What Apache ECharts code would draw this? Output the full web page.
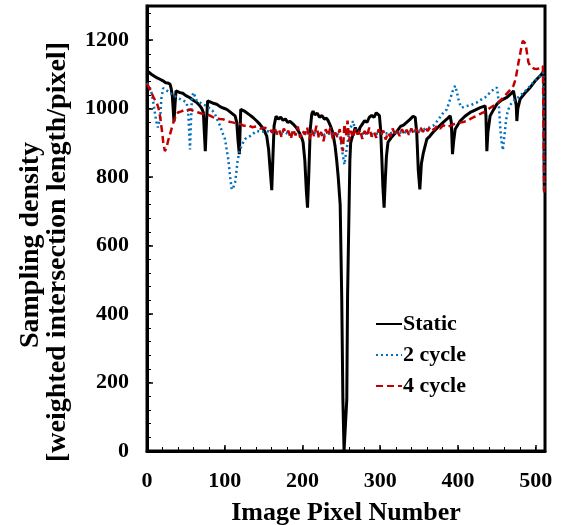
<!DOCTYPE html>
<html>
<head>
<meta charset="utf-8">
<script src="https://cdn.jsdelivr.net/npm/echarts@6/dist/echarts.min.js"></script>
<style>
  html, body { margin: 0; padding: 0; background: #fff; }
  #chart { width: 562px; height: 525px; }
</style>
</head>
<body>
<div id="chart"></div>
<script>
// [image pixel, sampling density]
var staticData = [
  [0,1100],[1.5,1108],[3,1110],[6,1100],[10,1094],[13,1090],[16.7,1086],[20,1082],[24,1076],[27,1075],[29.6,1072],[31,1060],[32.6,1037],[34.7,962],[36,1010],[37.3,1052],[39,1055],[42.5,1047],[46,1045],[50,1038],[55.3,1032],[60,1024],[64,1018],[68.2,1008],[70.5,1000],[72.5,989],[73.8,930],[75,876],[76.5,960],[78,1023],[81,1020],[85,1016],[89.7,1013],[94,1006],[98,1002],[102.6,998],[106,992],[110,985],[113.3,979],[115.5,960],[117,910],[118.8,867],[119.8,940],[120.6,998],[123,995],[126,992],[128.3,989],[132,982],[136,975],[141.2,964],[145,955],[150,940],[154,920],[156.5,880],[158.5,820],[160.5,762],[162,860],[163.5,950],[166,978],[169,970],[172,975],[175,966],[178,970],[181,960],[184,963],[188,955],[192,945],[196,930],[199,915],[200.8,902],[203,850],[205,760],[206.5,711],[208,800],[210,940],[212,985],[213.6,993],[216,982],[219,987],[222,975],[225,980],[228,970],[231,972],[233,965],[236,950],[239,930],[242,890],[244,850],[246,800],[248.5,720],[250.5,450],[252,150],[253.5,0],[255.5,0],[257,150],[258,450],[260,720],[261,850],[262,900],[265,925],[268,945],[271.6,925],[274,945],[277,955],[280,965],[283,960],[286,975],[289,980],[292,975],[295,988],[297,993],[299,980],[300.5,940],[302,860],[303.5,770],[305,711],[306.5,790],[308,860],[310,902],[314,915],[318,925],[322,935],[326,948],[330,952],[334,960],[338,968],[342.3,978],[345,975],[347,930],[349,820],[351,764],[353,840],[355.6,872],[360,911],[364,920],[368,931],[374,945],[381,960],[386,970],[390,979],[391.5,960],[393,867],[394.5,905],[396.4,940],[402.8,964],[409,978],[415.7,989],[422,996],[428.6,1003],[435,1008],[436,980],[437.2,876],[438.5,930],[441.4,979],[446,998],[450,1013],[456,1025],[463,1033],[468,1043],[471.4,1052],[473.5,1050],[475,1010],[475.8,964],[477,1000],[480,1028],[486,1045],[493,1062],[499,1080],[505.8,1096],[509,1105],[510.5,1111],[511,760]
];
var cycle2Data = [
  [0,1075],[2,1070],[4,1060],[6,1045],[8,1020],[10,990],[12,962],[14,945],[15.8,940],[17,975],[18.5,1030],[20.7,1060],[23,1058],[26,1052],[29.6,1047],[33,1040],[37,1035],[41,1030],[45,1025],[48,1022],[51,1018],[53,990],[54.3,930],[55.3,881],[56.5,960],[57.8,1030],[59.6,1047],[62,1035],[64,1023],[68,1018],[72,1012],[76.8,1008],[80,1002],[84,995],[87.5,984],[91,965],[94,950],[97,930],[100.4,911],[102.5,880],[104.6,852],[107,800],[109,764],[111,770],[113.3,784],[115,815],[116.2,842],[118,865],[119.7,881],[123,898],[126,911],[129,916],[132.6,920],[137,928],[141.2,935],[147,932],[154,935],[160,930],[166,933],[172,926],[178,930],[184,924],[190,928],[196,922],[202,927],[208,924],[214,930],[220,926],[226,922],[232,928],[238,925],[244,930],[248,918],[250,895],[252,862],[254,837],[256,870],[258,900],[260,935],[263,950],[265,964],[267,945],[270,928],[275,925],[281,930],[287,924],[293,928],[299,925],[305,930],[311,926],[317,932],[323,928],[329,933],[335,930],[341,936],[347,933],[353,938],[359,942],[364,946],[368,950],[372,960],[376,972],[380,985],[385.7,998],[390,1028],[393,1050],[396.4,1067],[398.5,1050],[400.6,1028],[403,1010],[405,1003],[408,1006],[411.5,1008],[416,1010],[420,1014],[424.3,1018],[428,1024],[431,1028],[435,1033],[439,1042],[443.6,1052],[447,1058],[450,1062],[451.5,1040],[453,998],[454.3,950],[456,905],[457.8,879],[459,905],[460.7,940],[462,968],[463.7,989],[466,1005],[469.4,1018],[473,1025],[477,1032],[480,1038],[486,1050],[493,1067],[499,1082],[505.8,1096],[510,1106],[511,760]
];
var cycle4Data = [
  [0,1072],[2,1065],[4,1055],[6,1045],[9,1030],[12.5,1018],[15,1000],[17,975],[19,940],[21,900],[23,876],[25,885],[27,905],[29.6,925],[32,945],[34,960],[37,978],[40,989],[44,992],[48,996],[52,994],[55,998],[58,995],[62,992],[66,989],[70,986],[74,983],[77,984],[81,980],[85,975],[89,974],[93,970],[98,969],[102,965],[106,962],[110,960],[115,957],[120,955],[125,950],[130,952],[135,946],[141,948],[146,942],[152,944],[158,940],
  [161,930],[164,945],[167,925],[170,938],[173,918],[176,942],[179,928],[182,935],[185,912],[188,940],[191,922],[194,948],[197,915],[200,935],[203,925],[206,945],[209,910],[212,938],[215,920],[218,950],[221,915],[224,932],[227,905],[230,940],[233,922],[236,945],[239,912],[242,930],[245,918],[248,940],[250,900],[252,876],[254,955],[256,920],[258,965],[260,905],[262,935],[265,915],[268,942],[271,925],[274,938],[277,912],[280,935],[283,920],[286,945],[289,918],[292,932],[295,915],[298,940],[301,922],[304,936],[307,910],[310,930],[313,918],[316,942],[319,925],[322,935],[325,920],[328,940],[331,926],[334,938],[337,924],[340,942],[343,928],[346,940],[349,930],[352,944],[355,932],[358,945],[361,935],[365,948],[369,938],[373,950],[377,942],[381,952],[385,946],[390,950],
  [395,955],[400,958],[405,960],[411.5,964],[416,970],[420,975],[424,979],[428,984],[432.8,989],[437,995],[441,1002],[445.7,1008],[450,1015],[455,1025],[458.6,1033],[462,1042],[466,1052],[471.4,1067],[474,1085],[476,1110],[477.9,1135],[480,1160],[482,1185],[483.5,1198],[485.2,1203],[487,1190],[489,1160],[490.7,1135],[493,1125],[495,1120],[498,1117],[501.5,1116],[505,1118],[509.3,1125],[511,755]
];
var seriesNames = ['Static', '2 cycle', '4 cycle'];
var xMax = 512, yMax = 1300;

var serif = 'Liberation Serif';
var chart = echarts.init(document.getElementById('chart'));

var option = {
  animation: false,
  grid: {
    left: 147, right: 17, top: 6, bottom: 74,
    outerBoundsMode: 'none',
    show: true, borderColor: '#000', borderWidth: 3
  },
  legend: {
    data: seriesNames,
    orient: 'vertical',
    left: 370, top: 308,
    itemWidth: 26, itemHeight: 14, itemGap: 9,
    itemStyle: { opacity: 0 },
    textStyle: { fontFamily: serif, fontWeight: 'bold', fontSize: 22, color: '#000', padding: [0, 0, 0, -4] }
  },
  graphic: [{
    type: 'text', x: 31, y: 245, rotation: Math.PI / 2,
    style: {
      text: 'Sampling density',
      font: 'bold 28px "Liberation Serif"', fill: '#000',
      align: 'center', verticalAlign: 'middle'
    }
  }, {
    type: 'text', x: 58, y: 252, rotation: Math.PI / 2,
    style: {
      text: '[weighted intersection length/pixel]',
      font: 'bold 28px "Liberation Serif"', fill: '#000',
      align: 'center', verticalAlign: 'middle'
    }
  }],
  xAxis: [{
    type: 'value', min: 0, max: xMax, interval: 100,
    axisLine: { lineStyle: { color: '#000', width: 3 } },
    axisTick: { inside: true, length: 6, lineStyle: { color: '#000', width: 1.5 } },
    splitLine: { show: false },
    axisLabel: { showMaxLabel: false, margin: 19, fontFamily: serif, fontWeight: 'bold', fontSize: 22, color: '#000' },
    name: 'Image Pixel Number',
    nameLocation: 'middle', nameGap: 49,
    nameTextStyle: { fontFamily: serif, fontWeight: 'bold', fontSize: 26, color: '#000' }
  }, {
    type: 'value', min: 0, max: xMax, interval: 20, position: 'bottom',
    axisLine: { show: false },
    axisTick: { inside: true, length: 4, lineStyle: { color: '#000', width: 1 } },
    axisLabel: { show: false }, splitLine: { show: false }
  }],
  yAxis: [{
    type: 'value', min: 0, max: yMax, interval: 200,
    axisLine: { lineStyle: { color: '#000', width: 3 } },
    axisTick: { inside: true, length: 6, lineStyle: { color: '#000', width: 1.5 } },
    splitLine: { show: false },
    axisLabel: {
      showMaxLabel: false, margin: 18, fontFamily: serif, fontWeight: 'bold', fontSize: 22, color: '#000',
      formatter: function (v) { return String(v); }
    }
  }, {
    type: 'value', min: 0, max: yMax, interval: 40, position: 'left',
    axisLine: { show: false },
    axisTick: { inside: true, length: 4, lineStyle: { color: '#000', width: 1 } },
    axisLabel: { show: false }, splitLine: { show: false }
  }],
  series: [{
    name: 'Static', type: 'line', data: staticData,
    symbol: 'none', lineStyle: { color: '#000', width: 3 }, itemStyle: { color: '#000' }
  }, {
    name: '2 cycle', type: 'line', data: cycle2Data,
    symbol: 'none', lineStyle: { color: '#0070C0', width: 2.5, type: [2, 3] }, itemStyle: { color: '#0070C0' }
  }, {
    name: '4 cycle', type: 'line', data: cycle4Data,
    symbol: 'none', lineStyle: { color: '#C00000', width: 2.5, type: [7, 4] }, itemStyle: { color: '#C00000' }
  }]
};
chart.setOption(option);
</script>
</body>
</html>
